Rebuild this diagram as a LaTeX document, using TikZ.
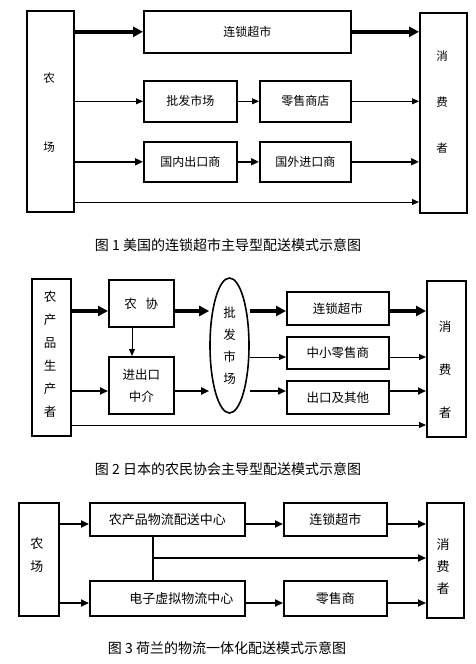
\documentclass[tikz,border=0pt]{standalone}
\usepackage{fontspec}
\newfontfamily\cjk{Noto Sans CJK SC}
\usetikzlibrary{arrows.meta,shapes.geometric}
\begin{document}
\begin{tikzpicture}[x=1pt,y=-1pt,
  bx/.style={draw, line width=1.6pt, inner sep=0pt, anchor=north west, align=center, font=\cjk\fontsize{12}{22}\selectfont},
  vt/.style={align=center, inner sep=0pt},
  captxt/.style={font=\cjk\fontsize{14}{14}\selectfont, inner sep=0pt},
  thk/.style={line width=3.5pt, -{Triangle[length=10pt,width=10pt]}},
  med/.style={line width=1.8pt, -{Triangle[length=8pt,width=7pt]}},
  thn/.style={line width=1pt, -{Triangle[length=7pt,width=6pt]}},
  ln/.style={line width=1.6pt}
]
\useasboundingbox (0,0) rectangle (476,664);

% ---------- Figure 1 ----------
\node[bx, minimum width=47pt, minimum height=201pt] (farm1) at (26,10) {};
\node[vt, font=\cjk\fontsize{11.5}{69}\selectfont] (farm1t) at (49,112.5) {农\\场};
\node[bx, minimum width=207pt, minimum height=42pt] (chain1) at (143,10) {连锁超市};
\node[bx, minimum width=93pt, minimum height=41pt] (whole1) at (143,80) {批发市场};
\node[bx, minimum width=91pt, minimum height=41pt] (retail1) at (259,80) {零售商店};
\node[bx, minimum width=93pt, minimum height=40pt] (exp1) at (143,141) {国内出口商};
\node[bx, minimum width=91pt, minimum height=40pt] (imp1) at (259,141) {国外进口商};
\node[bx, minimum width=47pt, minimum height=200pt] (cons1) at (419,12) {};
\node[vt, font=\cjk\fontsize{11.5}{46}\selectfont] (cons1t) at (442,102) {消\\费\\者};

\draw[thk] (farm1.east |- chain1.west) -- (chain1.west);
\draw[thk] (chain1.east) -- (chain1.east -| cons1.west);
\draw[thn] (farm1.east |- whole1.west) -- (whole1.west);
\draw[thn] (whole1.east) -- (retail1.west);
\draw[thn] (retail1.east) -- (retail1.east -| cons1.west);
\draw[med] (farm1.east |- exp1.west) -- (exp1.west);
\draw[med] (exp1.east) -- (imp1.west);
\draw[med] (imp1.east) -- (imp1.east -| cons1.west);
\coordinate (b1) at (0,202);
\draw[thn] (farm1.east |- b1) -- (cons1.west |- b1);

\node[captxt] (cap1) at (228,245) {图 1 美国的连锁超市主导型配送模式示意图};

% ---------- Figure 2 ----------
\node[bx, minimum width=39pt, minimum height=157pt] (farm2) at (31,278) {};
\node[vt, font=\cjk\fontsize{12.5}{23}\selectfont] (farm2t) at (50,354.5) {农\\产\\品\\生\\产\\者};
\node[bx, minimum width=65pt, minimum height=47pt, font=\cjk\fontsize{12.5}{22}\selectfont] (coop) at (108,279) {农\hspace{0.7em}协};
\node[bx, minimum width=65pt, minimum height=57pt, font=\cjk\fontsize{12.5}{22}\selectfont] (agent) at (108,356) {进出口\\中介};
\node[draw, ellipse, line width=1.6pt, minimum width=39pt, minimum height=135pt, inner sep=0pt,
      align=center, font=\cjk\fontsize{12.5}{22}\selectfont] (ell) at (229.5,345.5) {批\\发\\市\\场};
\node[bx, minimum width=102pt, minimum height=33pt, font=\cjk\fontsize{12.5}{22}\selectfont] (chain2) at (286,291) {连锁超市};
\node[bx, minimum width=102pt, minimum height=32pt, font=\cjk\fontsize{12.5}{22}\selectfont] (retail2) at (286,336) {中小零售商};
\node[bx, minimum width=102pt, minimum height=33pt, font=\cjk\fontsize{12.5}{22}\selectfont] (other2) at (286,380) {出口及其他};
\node[bx, minimum width=39pt, minimum height=156pt] (cons2) at (426,280) {};
\node[vt, font=\cjk\fontsize{12.5}{43}\selectfont] (cons2t) at (445,370) {消\\费\\者};

\coordinate (l1) at (0,311);
\coordinate (l2) at (0,357);
\coordinate (l3) at (0,391);
\coordinate (l4) at (0,425);
\coordinate (vx) at (132,0);
\draw[thk] (farm2.east |- l1) -- (coop.west |- l1);
\draw[thk] (coop.east |- l1) -- (ell.west |- l1);
\draw[thk] (ell.east |- l1) -- (chain2.west |- l1);
\draw[thk] (chain2.east |- l1) -- (cons2.west |- l1);
\draw[thn] (coop.south -| vx) -- (agent.north -| vx);
\draw[thn] (ell.east |- l2) -- (retail2.west |- l2);
\draw[thn] (retail2.east |- l2) -- (cons2.west |- l2);
\draw[med] (farm2.east |- l3) -- (agent.west |- l3);
\draw[med] (agent.east |- l3) -- (ell.west |- l3);
\draw[med] (ell.east |- l3) -- (other2.west |- l3);
\draw[med] (other2.east |- l3) -- (cons2.west |- l3);
\draw[thn] (farm2.east |- l4) -- (cons2.west |- l4);

\node[captxt] (cap2) at (228,469) {图 2 日本的农民协会主导型配送模式示意图};

% ---------- Figure 3 ----------
\node[bx, minimum width=40pt, minimum height=113pt] (farm3) at (18,502) {};
\node[vt, font=\cjk\fontsize{13}{23}\selectfont] (farm3t) at (37,555.5) {农\\场};
\node[bx, minimum width=155pt, minimum height=33pt, font=\cjk\fontsize{13}{22}\selectfont] (ctr) at (89,502) {农产品物流配送中心};
\node[bx, minimum width=103pt, minimum height=33pt, font=\cjk\fontsize{13}{22}\selectfont] (chain3) at (283,502) {连锁超市};
\node[bx, minimum width=155pt, minimum height=35pt, font=\cjk\fontsize{13}{22}\selectfont] (ectr) at (89,580) {\hspace*{28pt}电子虚拟物流中心};
\node[bx, minimum width=103pt, minimum height=35pt, font=\cjk\fontsize{13}{22}\selectfont] (retail3) at (283,580) {零售商};
\node[bx, minimum width=37pt, minimum height=115pt] (cons3) at (426,502) {};
\node[vt, font=\cjk\fontsize{13}{22}\selectfont] (cons3t) at (443,566.5) {消\\费\\者};

\coordinate (m1) at (0,524);
\coordinate (m3) at (0,603);
\coordinate (j) at (153,558);
\draw[med] (farm3.east |- m1) -- (ctr.west |- m1);
\draw[med] (ctr.east |- m1) -- (chain3.west |- m1);
\draw[med] (chain3.east |- m1) -- (cons3.west |- m1);
\draw[ln] (ctr.south -| j) -- (ectr.north -| j);
\draw[med] (j) -- (cons3.west |- j);
\draw[med] (farm3.east |- m3) -- (ectr.west |- m3);
\draw[med] (ectr.east |- m3) -- (retail3.west |- m3);
\draw[med] (retail3.east |- m3) -- (cons3.west |- m3);

\node[captxt] (cap3) at (227,648) {图 3 荷兰的物流一体化配送模式示意图};
\end{tikzpicture}
\end{document}
